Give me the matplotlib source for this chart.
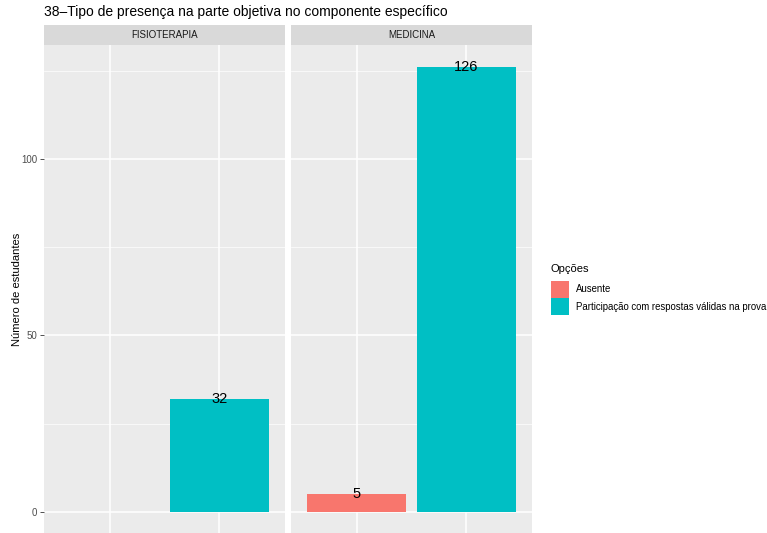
import numpy as np
import matplotlib
matplotlib.use("Agg")
import matplotlib.pyplot as plt
from matplotlib.patches import Patch

plt.rcParams['font.family'] = ['Liberation Sans', 'DejaVu Sans']

# dados
cursos = ["FISIOTERAPIA", "MEDICINA"]
opcoes = ["Ausente", "Participação com respostas válidas na prova"]
cores = ["#F8766D", "#00BFC4"]
valores = {
    "FISIOTERAPIA": [None, 32],
    "MEDICINA": [5, 126],
}
y_ticks = [0, 50, 100]
y_minor = [25, 75, 125]

titulo = "38\u2013Tipo de presença na parte objetiva no componente específico"

W, H = 767, 533
fig = plt.figure(figsize=(W / 100, H / 100), dpi=100)

ymax = 126 * 1.05
ymin = -126 * 0.05
pan_top = 45
pan_bot = 534
lefts = [44, 291]
larg = 241

for k, curso in enumerate(cursos):
    ax = fig.add_axes([lefts[k] / W, (H - pan_bot) / H, larg / W, (pan_bot - pan_top) / H])
    ax.set_facecolor("#EBEBEB")
    for s in ax.spines.values():
        s.set_visible(False)
    ax.set_xlim(0.4, 2.6)
    ax.set_ylim(ymin, ymax)
    for y in y_minor:
        ax.axhline(y, color="white", lw=0.5, zorder=0)
    for y in y_ticks:
        ax.axhline(y, color="white", lw=1.1, zorder=0)
    for x in [1, 2]:
        ax.axvline(x, color="white", lw=1.1, zorder=0)
    for i, v in enumerate(valores[curso]):
        if v is None:
            continue
        ax.bar(i + 1, v, width=0.9, color=cores[i], zorder=2)
        ax.text(i + 1, v, str(v), ha="center", va="center", fontsize=10.5, color="black", zorder=3)
    ax.set_xticks([1, 2])
    ax.set_xticklabels([])
    ax.tick_params(axis="x", length=0)
    if k == 0:
        ax.set_yticks(y_ticks)
        ax.set_yticklabels([str(t) for t in y_ticks], fontsize=7, color="#4D4D4D")
        ax.tick_params(axis="y", length=3, width=0.6, color="#333333", pad=2)
        ax.set_ylabel("Número de estudantes", fontsize=8, labelpad=-1)
    else:
        ax.set_yticks([])
    # faixa do facet
    sax = fig.add_axes([lefts[k] / W, (H - pan_top) / H, larg / W, 20 / H])
    sax.set_facecolor("#D9D9D9")
    sax.set_xticks([])
    sax.set_yticks([])
    for s in sax.spines.values():
        s.set_visible(False)
    sax.text(0.5, 0.5, curso, ha="center", va="center", fontsize=7, color="#1A1A1A",
             transform=sax.transAxes)

fig.text(44 / W, 1 - 12 / H, titulo, fontsize=10, ha="left", va="center")

handles = [Patch(facecolor=c, edgecolor="none") for c in cores]
leg = fig.legend(handles, opcoes, title="Opções", loc="upper left",
                 bbox_to_anchor=(549 / W, 1 - 262 / H), frameon=False,
                 fontsize=6.9, title_fontsize=8, handlelength=1.9, handleheight=2.4,
                 handletextpad=0.7, labelspacing=0.0, borderaxespad=0, borderpad=0.2)
leg._legend_box.align = "left"
leg._legend_box.sep = 5

fig.savefig("out.png", dpi=100)
